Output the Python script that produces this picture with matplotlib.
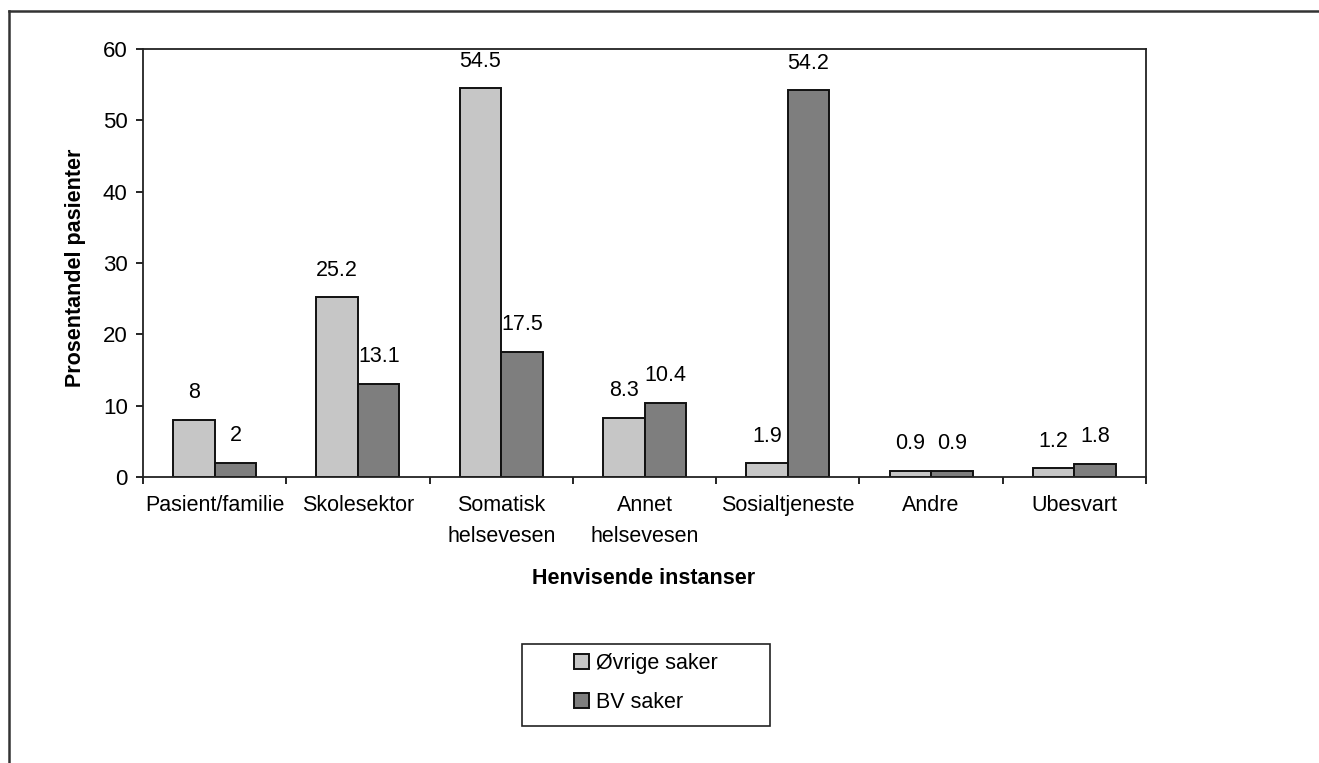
import matplotlib
matplotlib.use("Agg")
import matplotlib.pyplot as plt
from matplotlib.lines import Line2D
from matplotlib.patches import Rectangle
import numpy as np

plt.rcParams['font.family'] = ['Liberation Sans', 'DejaVu Sans']

# data
categories = ['Pasient/familie', 'Skolesektor', 'Somatisk\nhelsevesen',
              'Annet\nhelsevesen', 'Sosialtjeneste', 'Andre', 'Ubesvart']
ovrige = [8, 25.2, 54.5, 8.3, 1.9, 0.9, 1.2]
bv = [2, 13.1, 17.5, 10.4, 54.2, 0.9, 1.8]
ovrige_labels = ['8', '25.2', '54.5', '8.3', '1.9', '0.9', '1.2']
bv_labels = ['2', '13.1', '17.5', '10.4', '54.2', '0.9', '1.8']
series_names = ['Øvrige saker', 'BV saker']

W, H = 1319, 763
fig = plt.figure(figsize=(W / 100, H / 100), dpi=100)
fig.patch.set_facecolor('white')

# axes placed to match the reference pixel box
ax = fig.add_axes([143 / W, 1 - 477 / H, (1146 - 143) / W, (477 - 49) / H])

x = np.arange(len(categories))
bw = 0.29
light = '#c6c6c6'
dark = '#7e7e7e'
fs = 15.5

b1 = ax.bar(x - bw / 2, ovrige, bw, color=light, edgecolor='#111111',
            linewidth=1.4, label=series_names[0])
b2 = ax.bar(x + bw / 2, bv, bw, color=dark, edgecolor='#111111',
            linewidth=1.4, label=series_names[1])

# value labels above bars
for bars, labs in [(b1, ovrige_labels), (b2, bv_labels)]:
    for r, t in zip(bars, labs):
        ax.annotate(t, (r.get_x() + r.get_width() / 2, r.get_height()),
                    xytext=(0, 12), textcoords='offset points',
                    ha='center', va='bottom', fontsize=fs)

ax.set_xlim(-0.5, len(categories) - 0.5)
ax.set_ylim(0, 60)
ax.set_yticks(range(0, 61, 10))
ax.tick_params(axis='y', direction='out', length=5, width=1.2,
               labelsize=16, pad=6)

# category boundaries carry the tick marks, labels sit in between
ax.set_xticks(np.arange(-0.5, len(categories), 1.0))
ax.set_xticklabels([])
ax.set_xticks(x, minor=True)
ax.set_xticklabels(categories, minor=True, fontsize=fs, va='top',
                   linespacing=1.6)
ax.tick_params(axis='x', which='major', direction='out', length=5, width=1.2)
ax.tick_params(axis='x', which='minor', length=0, pad=13)

for s in ax.spines.values():
    s.set_color('#222222')
    s.set_linewidth(1.3)

fig.text(75 / W, 1 - 268 / H, 'Prosentandel pasienter', rotation=90,
         ha='center', va='center', fontsize=15.5, fontweight='bold')
fig.text(644 / W, 1 - 578 / H, 'Henvisende instanser', ha='center',
         va='center', fontsize=15.5, fontweight='bold')

# legend with a separate frame box
leg = fig.legend(handles=[b1, b2], labels=series_names, loc='center',
                 bbox_to_anchor=(646 / W, 1 - 683 / H),
                 bbox_transform=fig.transFigure, frameon=False,
                 fontsize=fs, handlelength=0.7, handleheight=0.7,
                 handletextpad=0.35, labelspacing=0.8)
fig.patches.append(Rectangle((522 / W, 1 - 726 / H), (770 - 522) / W,
                             (726 - 644) / H, transform=fig.transFigure,
                             fill=False, edgecolor='#222222', linewidth=1.2))

# scanned page border (top and left edges)
fig.add_artist(Line2D([9 / W, 1.0], [1 - 11 / H, 1 - 11 / H],
                      transform=fig.transFigure, color='#333333', lw=1.8))
fig.add_artist(Line2D([9 / W, 9 / W], [0.0, 1 - 11 / H],
                      transform=fig.transFigure, color='#333333', lw=1.8))

fig.savefig('out.png', dpi=100, facecolor='white')
